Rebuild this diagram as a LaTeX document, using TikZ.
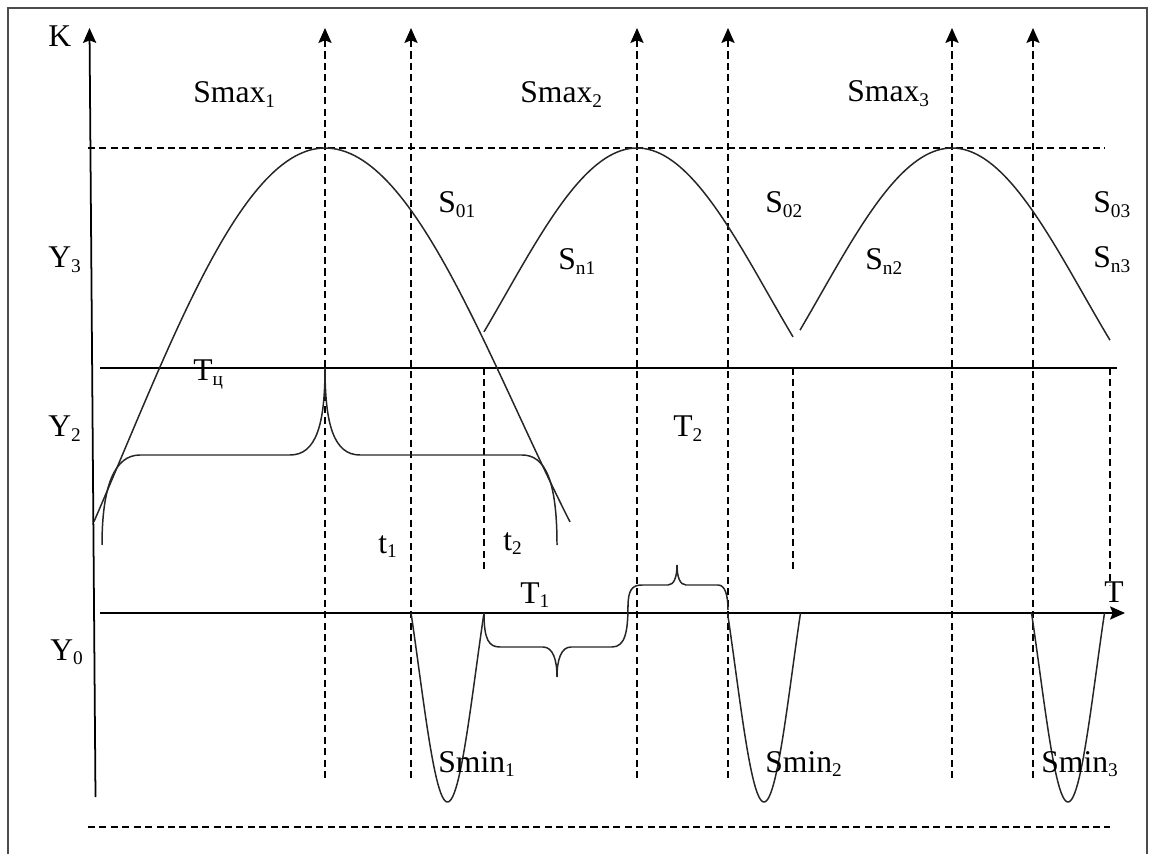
\documentclass[tikz,border=0pt]{standalone}
\usepackage{fontspec}
\setmainfont{Liberation Serif}
\usetikzlibrary{arrows.meta}

\newcommand{\idx}[1]{\raisebox{-2.3pt}{\fontsize{11}{11}\selectfont #1}}

\begin{document}
\begin{tikzpicture}[x=0.02cm, y=-0.02cm,
    arr/.style={-{Stealth[length=8.5pt, width=7.5pt, inset=1.5pt]}},
    lbl/.style={anchor=base west, inner sep=0pt, font=\fontsize{18}{20}\selectfont},
    axis/.style={line width=1pt},
    guide/.style={line width=0.9pt, dash pattern=on 4pt off 2.5pt},
    curve/.style={line width=0.85pt, black!85},
    frame/.style={line width=1.2pt, black!70}]
    \useasboundingbox (0,0) rectangle (1149,854);

    % Frame (open at the bottom)
    \draw[frame] (8,854) -- (8,8) -- (1147,8) -- (1147,854);

    % Axes
    \coordinate (K0) at (95.5,797);
    \coordinate (K1) at (89.5,28);
    \coordinate (T0) at (100,613);
    \coordinate (T1) at (1125,613);
    \draw[axis, arr] (K0) -- (K1);
    \draw[axis, arr] (T0) -- (T1);
    \draw[axis] (100,368) -- (1117,368);

    % Horizontal guide lines
    \draw[guide] (88,148) -- (1105,148);
    \draw[guide] (88,827) -- (1110,827);

    % Vertical guides with arrows
    \draw[guide, arr] (325,778) -- (325,28);
    \draw[guide, arr] (411,778) -- (411,28);
    \draw[guide, arr] (637,778) -- (637,28);
    \draw[guide, arr] (728,778) -- (728,28);
    \draw[guide, arr] (952,778) -- (952,28);
    \draw[guide, arr] (1033,778) -- (1033,28);

    % Short vertical guides
    \draw[guide] (484,368) -- (484,570);
    \draw[guide] (793,368) -- (793,573);
    \draw[guide] (1110,368) -- (1110,585);

    % Smax arcs
    \draw[curve] plot[domain=-231:0, samples=60, variable=\t]
      ({325+\t}, {148+304*(1-cos(0.4469*\t))});
    \draw[curve] plot[domain=0:245, samples=60, variable=\t]
      ({325+\t}, {148+265*(1-cos(0.4664*\t))});
    \draw[curve] plot[domain=-153:156, samples=80, variable=\t]
      ({637+\t}, {148+146.7*(1-cos(0.6841*\t))});
    \draw[curve] plot[domain=-152:158, samples=80, variable=\t]
      ({952+\t}, {148+146.7*(1-cos(0.6841*\t))});

    % Smin dips
    \draw[curve] plot[domain=-36.5:36.5, samples=50, variable=\t]
      ({447.5+\t}, {802-133.5*(1-cos(3.14*\t))});
    \draw[curve] plot[domain=-36.5:36.5, samples=50, variable=\t]
      ({764+\t}, {802-133.5*(1-cos(3.14*\t))});
    \draw[curve] plot[domain=-36.5:36.5, samples=50, variable=\t]
      ({1068+\t}, {802-133.5*(1-cos(3.14*\t))});

    % Braces
    \draw[curve] (102,545) .. controls (102,485) and (115,455) .. (140,455) -- (290,455)
      .. controls (316,455) and (325,425) .. (325,368)
      .. controls (325,425) and (334,455) .. (360,455) -- (522,455)
      .. controls (545,455) and (557,480) .. (557,545);
    \draw[curve] (484,613) .. controls (484,640) and (489,647) .. (500,647) -- (543,647)
      .. controls (553,647) and (557,660) .. (557,677)
      .. controls (557,660) and (561,647) .. (571,647) -- (612,647)
      .. controls (625,647) and (628,632) .. (628,605);
    \draw[curve] (628,607) .. controls (628,590) and (632,585) .. (642,585) -- (668,585)
      .. controls (674,585) and (677,577) .. (677,565)
      .. controls (677,577) and (680,585) .. (686,585) -- (718,585)
      .. controls (725,585) and (728,595) .. (728,610);

    % Labels
    \node[lbl] (k) at (48,47) {K};
    \node[lbl] (y3) at (48,268) {Y\idx{3}};
    \node[lbl] (y2) at (48,437) {Y\idx{2}};
    \node[lbl] (y0) at (50,660) {Y\idx{0}};
    \node[lbl] (smax1) at (193,103) {Smax\idx{1}};
    \node[lbl] (smax2) at (520,103) {Smax\idx{2}};
    \node[lbl] (smax3) at (847,102) {Smax\idx{3}};
    \node[lbl] (s01) at (438,213) {S\idx{01}};
    \node[lbl] (sn1) at (558,270) {S\idx{n1}};
    \node[lbl] (s02) at (765,213) {S\idx{02}};
    \node[lbl] (sn2) at (865,270) {S\idx{n2}};
    \node[lbl] (s03) at (1093,213) {S\idx{03}};
    \node[lbl] (sn3) at (1093,268) {S\idx{n3}};
    \node[lbl] (tc) at (193,381) {T\idx{ц}};
    \node[lbl] (tt2) at (673,437) {T\idx{2}};
    \node[lbl] (t1) at (378,553) {t\idx{1}};
    \node[lbl] (t2) at (503,550) {t\idx{2}};
    \node[lbl] (tt1) at (520,603) {T\idx{1}};
    \node[lbl] (t) at (1104,602) {T};
    \node[lbl] (smin1) at (438,772) {Smin\idx{1}};
    \node[lbl] (smin2) at (765,772) {Smin\idx{2}};
    \node[lbl] (smin3) at (1041,772) {Smin\idx{3}};
  \end{tikzpicture}
\end{document}
